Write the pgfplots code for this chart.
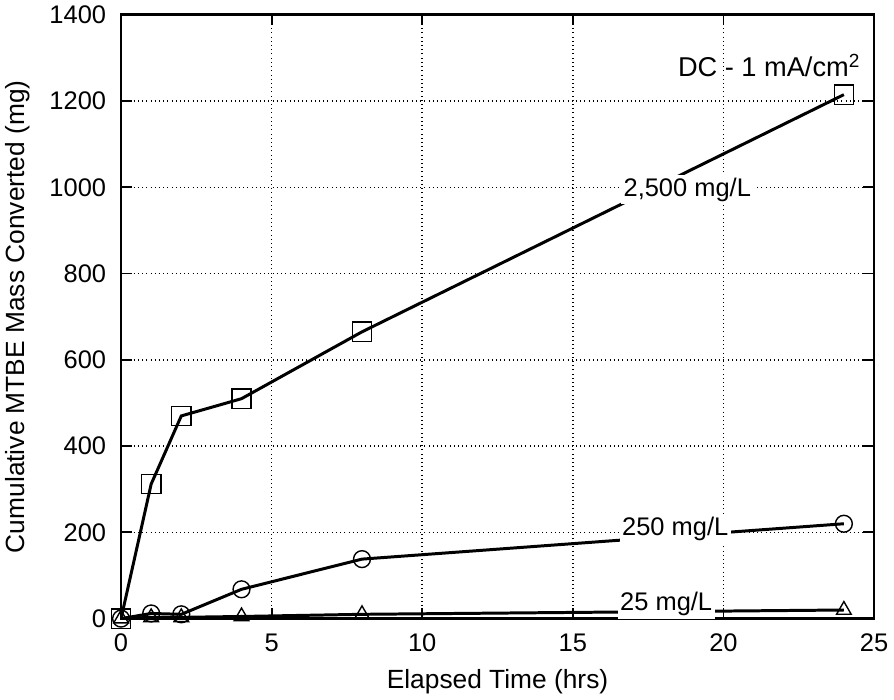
\documentclass[border=0pt]{standalone}
\usepackage{pgfplots}
\pgfplotsset{compat=1.18}
\usepackage{fontspec}
\setmainfont{Liberation Sans}

\begin{document}
\begin{tikzpicture}
\begin{axis}[
  scale only axis,
  width=429pt, height=344pt,
  xmin=0, xmax=25, ymin=0, ymax=1400,
  xtick={0,5,...,25}, ytick={0,200,...,1400},
  grid=major,
  grid style={black, dotted, line width=0.9pt},
  axis line style={line width=1.6pt},
  major tick length=6pt,
  tick style={black, line width=1pt},
  tick align=inside,
  every tick label/.append style={font=\fontsize{14.5}{17}\selectfont},
  xticklabel style={yshift=-5pt},
  yticklabel style={xshift=-5pt},
  /pgf/number format/assume math mode=true,
  /pgf/number format/1000 sep={},
  xlabel={Elapsed Time (hrs)},
  ylabel={Cumulative MTBE Mass Converted (mg)},
  label style={font=\fontsize{15}{17}\selectfont},
  xlabel style={yshift=-3pt},
  ylabel style={yshift=4pt},
  every axis plot/.append style={black, line width=1.7pt},
]
\addplot[mark=square, mark size=5.5pt, mark options={solid, line width=0.8pt, fill=white}]
  coordinates {(0,0) (1,312) (2,470) (4,510) (8,665) (24,1215)};
\addplot[mark=o, mark size=4.8pt, mark options={solid, line width=0.8pt, fill=white}]
  coordinates {(0,0) (1,12) (2,10) (4,68) (8,138) (24,220)};
\addplot[mark=triangle, mark size=4.8pt, mark options={solid, line width=0.8pt, fill=white}]
  coordinates {(0,0) (1,3) (2,3) (4,5) (8,10) (24,20)};

\node[fill=white, inner sep=1.5pt, font=\fontsize{14.5}{17}\selectfont] at (axis cs:18.8,995) {2,500 mg/L};
\node[fill=white, inner sep=1.5pt, font=\fontsize{14.5}{17}\selectfont] at (axis cs:18.4,208) {250 mg/L};
\node[fill=white, inner sep=1.5pt, font=\fontsize{14.5}{17}\selectfont] at (axis cs:18.1,33) {25 mg/L};
\node[anchor=east, font=\fontsize{15.5}{18}\selectfont] at (axis cs:24.75,1282) {DC - 1 mA/cm\textsuperscript{2}};
\end{axis}
\end{tikzpicture}
\end{document}
